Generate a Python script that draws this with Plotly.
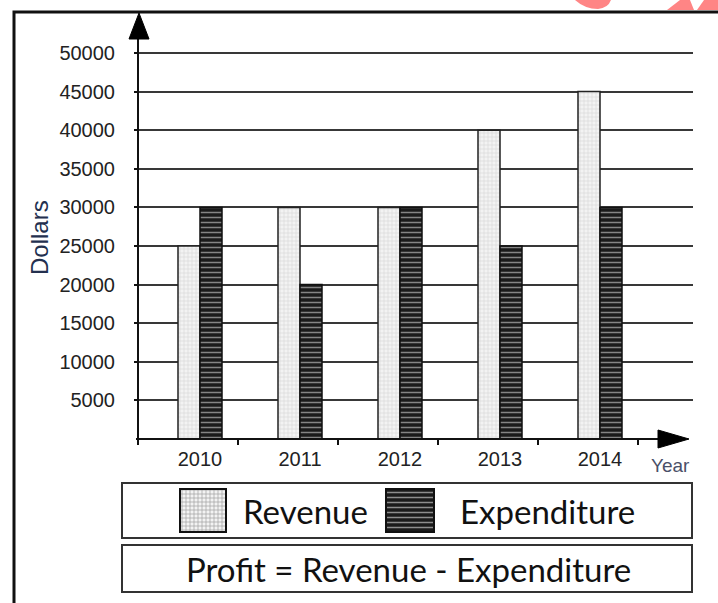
import plotly.graph_objects as go

# ---- data ----
years = ["2010", "2011", "2012", "2013", "2014"]
revenue = [25000, 30000, 30000, 40000, 45000]
expenditure = [30000, 20000, 30000, 25000, 30000]
y_ticks = [5000, 10000, 15000, 20000, 25000, 30000, 35000, 40000, 45000, 50000]
y_tick_labels = ["5000", "10000", "15000", "20000", "25000",
                 "30000", "35000", "40000", "45000", "50000"]
legend_names = ["Revenue", "Expenditure"]
note_text = "Profit = Revenue - Expenditure"

W, H = 718, 603
def px(x): return x / W
def py(y): return 1 - y / H

x_idx = list(range(len(years)))

rev_pattern = dict(shape="+", fgcolor="#bdbdbd", bgcolor="#f3f3f3", size=4, solidity=0.3)
exp_pattern = dict(shape="-", fgcolor="#eeeeee", bgcolor="#1a1a1a", size=5, solidity=0.3)

fig = go.Figure()
fig.add_trace(go.Bar(x=x_idx, y=revenue, name=legend_names[0],
                     marker=dict(color="#f3f3f3", pattern=rev_pattern,
                                 line=dict(color="#222222", width=1.5)),
                     showlegend=False))
fig.add_trace(go.Bar(x=x_idx, y=expenditure, name=legend_names[1],
                     marker=dict(color="#1a1a1a", pattern=exp_pattern,
                                 line=dict(color="#111111", width=1.5)),
                     showlegend=False))

# legend swatches on a pixel overlay axis
fig.add_trace(go.Bar(x=[203, 410], y=[43, 43], base=[489, 489], width=[46, 48],
                     xaxis="x2", yaxis="y2", showlegend=False, hoverinfo="skip",
                     marker=dict(color=["#f3f3f3", "#1a1a1a"],
                                 pattern=dict(shape=["+", "-"],
                                              fgcolor=["#bdbdbd", "#eeeeee"],
                                              bgcolor=["#f3f3f3", "#1a1a1a"],
                                              size=[4, 5], solidity=[0.3, 0.3]),
                                 line=dict(color="#111111", width=2))))

shapes = []
# outer frame
shapes.append(dict(type="rect", xref="paper", yref="paper",
                   x0=px(14), y0=py(12), x1=px(740), y1=py(640),
                   line=dict(color="#111111", width=3)))
# axes lines
shapes.append(dict(type="line", xref="paper", yref="paper",
                   x0=px(138), y0=py(439), x1=px(138), y1=py(30),
                   line=dict(color="#111111", width=2)))
shapes.append(dict(type="line", xref="paper", yref="paper",
                   x0=px(136), y0=py(439), x1=px(665), y1=py(439),
                   line=dict(color="#111111", width=2)))
# arrows
shapes.append(dict(type="path", xref="paper", yref="paper",
                   path=f"M {px(129)},{py(39)} L {px(139)},{py(13)} L {px(149)},{py(39)} Z",
                   fillcolor="#000000", line=dict(color="#000000", width=1)))
shapes.append(dict(type="path", xref="paper", yref="paper",
                   path=f"M {px(658)},{py(430)} L {px(689)},{py(439)} L {px(658)},{py(448)} Z",
                   fillcolor="#000000", line=dict(color="#000000", width=1)))
# legend boxes
shapes.append(dict(type="rect", xref="paper", yref="paper",
                   x0=px(122), y0=py(483), x1=px(692), y1=py(538),
                   line=dict(color="#333333", width=2)))
shapes.append(dict(type="rect", xref="paper", yref="paper",
                   x0=px(122), y0=py(545), x1=px(692), y1=py(592),
                   line=dict(color="#333333", width=2)))
# watermark fragments
shapes.append(dict(type="path", xref="paper", yref="paper",
                   path=f"M {px(575)},{py(0)} Q {px(585)},{py(9)} {px(598)},{py(9)} Q {px(608)},{py(8)} {px(611)},{py(0)} Z",
                   fillcolor="#ff8585", line=dict(width=0), layer="below"))
shapes.append(dict(type="path", xref="paper", yref="paper",
                   path=f"M {px(667)},{py(10)} L {px(680)},{py(0)} L {px(690)},{py(0)} L {px(694)},{py(10)} Z",
                   fillcolor="#ff8585", line=dict(width=0), layer="below"))
shapes.append(dict(type="path", xref="paper", yref="paper",
                   path=f"M {px(697)},{py(10)} L {px(704)},{py(0)} L {px(718)},{py(0)} L {px(718)},{py(10)} Z",
                   fillcolor="#ff8585", line=dict(width=0), layer="below"))

annotations = [
    dict(text="Dollars", xref="paper", yref="paper", x=px(39), y=py(238),
         textangle=-90, showarrow=False, xanchor="center", yanchor="middle",
         font=dict(family="Liberation Sans, Arial", size=24, color="#23304f")),
    dict(text="Year", xref="paper", yref="paper", x=px(670), y=py(465),
         showarrow=False, xanchor="center", yanchor="middle",
         font=dict(family="Liberation Sans, Arial", size=19, color="#4a5068")),
    dict(text=legend_names[0], xref="paper", yref="paper", x=px(241), y=py(511),
         showarrow=False, xanchor="left", yanchor="middle",
         font=dict(family="Lato", size=33, color="#111111")),
    dict(text=legend_names[1], xref="paper", yref="paper", x=px(458), y=py(511),
         showarrow=False, xanchor="left", yanchor="middle",
         font=dict(family="Lato", size=33, color="#111111")),
    dict(text=note_text, xref="paper", yref="paper", x=px(408), y=py(569),
         showarrow=False, xanchor="center", yanchor="middle",
         font=dict(family="Lato", size=33, color="#111111")),
]

fig.update_layout(
    width=W, height=H,
    margin=dict(l=0, r=0, t=0, b=0),
    paper_bgcolor="white", plot_bgcolor="rgba(0,0,0,0)",
    barmode="group", bargap=0.56, bargroupgap=0,
    shapes=shapes, annotations=annotations, showlegend=False,
    xaxis=dict(domain=[px(138), px(693)], range=[-0.62, 4.93],
               tickmode="array", tickvals=x_idx, ticktext=years,
               ticks="", showgrid=False, zeroline=False, showline=False,
               ticklabelstandoff=6,
               tickfont=dict(family="Liberation Sans, Arial", size=20, color="#222222"),
               minor=dict(tickmode="linear", tick0=-0.62, dtick=1, ticks="outside",
                          ticklen=5, tickwidth=2, tickcolor="#111111", showgrid=False),
               fixedrange=True),
    yaxis=dict(domain=[py(439), py(15)], range=[0, 54922],
               tickmode="array", tickvals=y_ticks, ticktext=y_tick_labels,
               ticks="outside", ticklen=3, tickwidth=2, tickcolor="#111111",
               ticklabelstandoff=15,
               showgrid=True, gridcolor="#383838", gridwidth=1.6,
               zeroline=False, showline=False,
               tickfont=dict(family="Liberation Sans, Arial", size=20, color="#222222"),
               fixedrange=True),
    xaxis2=dict(domain=[0, 1], range=[0, W], anchor="y2", visible=False, fixedrange=True),
    yaxis2=dict(domain=[0, 1], range=[H, 0], anchor="x2", visible=False, fixedrange=True),
)

fig.write_html("out.html", config={"displayModeBar": False},
               post_script="document.body.style.margin='0px';")
